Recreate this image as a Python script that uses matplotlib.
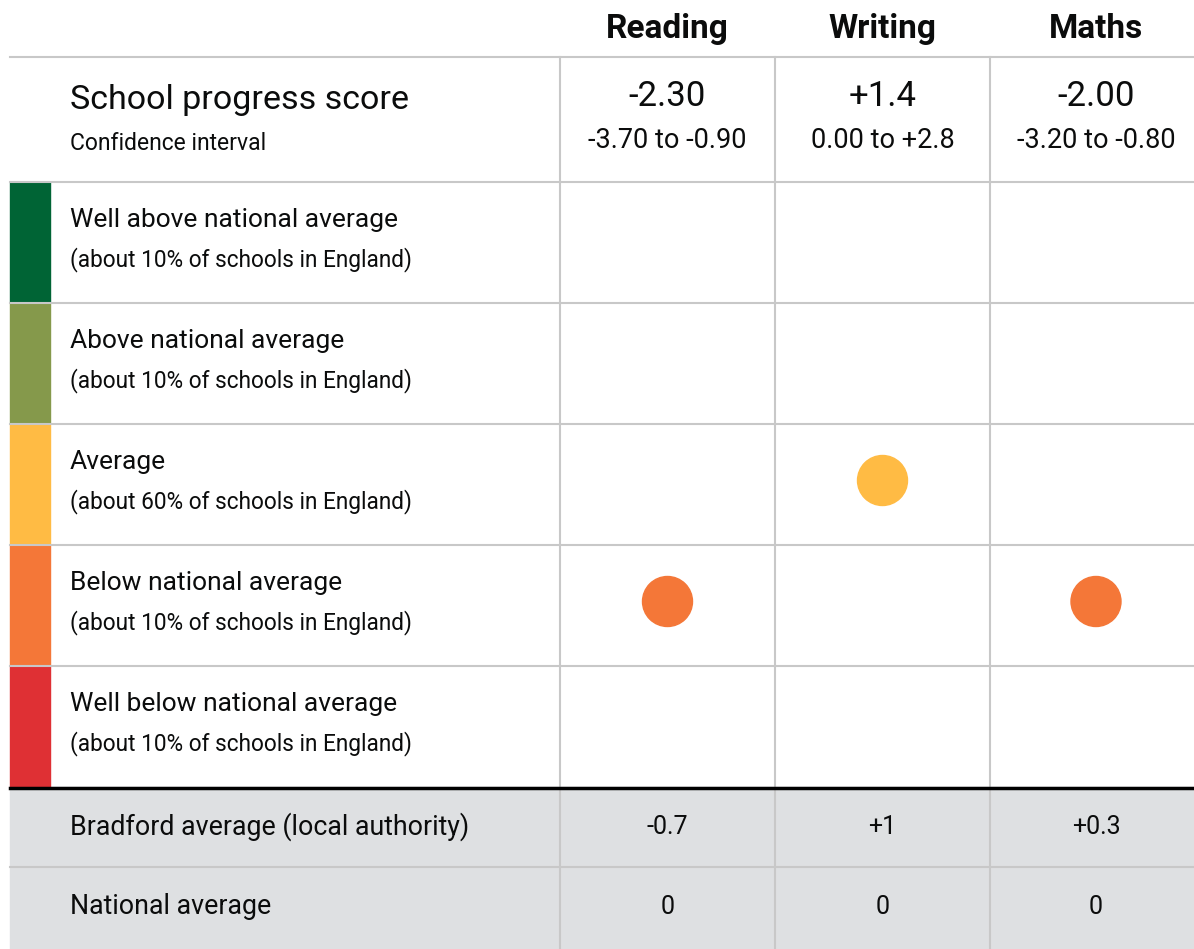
import matplotlib.pyplot as plt
from matplotlib.patches import Rectangle, Circle

plt.rcParams['font.family'] = ['Roboto', 'DejaVu Sans']

# data
subjects = ['Reading', 'Writing', 'Maths']
scores = ['-2.30', '+1.4', '-2.00']
conf_intervals = ['-3.70 to -0.90', '0.00 to +2.8', '-3.20 to -0.80']
bands = ['Well above national average', 'Above national average', 'Average',
         'Below national average', 'Well below national average']
band_notes = ['(about 10% of schools in England)', '(about 10% of schools in England)',
              '(about 60% of schools in England)', '(about 10% of schools in England)',
              '(about 10% of schools in England)']
band_colors = ['#006435', '#85994b', '#ffbb44', '#f47738', '#df3034']
subject_band = ['Below national average', 'Average', 'Below national average']
la_name = 'Bradford average (local authority)'
la_avg = ['-0.7', '+1', '+0.3']
national_avg = ['0', '0', '0']

# layout in pixels
W, H = 1194, 949
left = 10
col_edges = [560, 775, 990, 1202]
header_y = 57
head_h = 125
row_h = 121
foot_h = 80
grid = '#c8c8c8'
txt = '#0b0c0c'

fig = plt.figure(figsize=(W / 100, H / 100), dpi=100)
ax = fig.add_axes([0, 0, 1, 1])
ax.set_xlim(0, W)
ax.set_ylim(H, 0)
ax.axis('off')

col_centers = [(col_edges[i] + col_edges[i + 1]) / 2 for i in range(len(subjects))]
band_top = header_y + head_h
band_bottom = band_top + row_h * len(bands)

# grey footer background
ax.add_patch(Rectangle((left, band_bottom), W - left, H - band_bottom, color='#dee0e2', zorder=0))

# column headers
for x, s in zip(col_centers, subjects):
    ax.text(x, 29, s, ha='center', va='center', fontsize=24, fontweight='bold', color=txt)

# score row
ax.text(70, 100, 'School progress score', ha='left', va='center', fontsize=24.5, color=txt)
ax.text(70, 143, 'Confidence interval', ha='left', va='center', fontsize=16.5, color=txt)
for x, s, ci in zip(col_centers, scores, conf_intervals):
    ax.text(x, 96, s, ha='center', va='center', fontsize=25, color=txt)
    ax.text(x, 140, ci, ha='center', va='center', fontsize=19.5, color=txt)

# bands
for i, (b, note, c) in enumerate(zip(bands, band_notes, band_colors)):
    top = band_top + i * row_h
    ax.add_patch(Rectangle((left, top), 40, row_h, color=c, zorder=1))
    ax.text(70, top + 38, b, ha='left', va='center', fontsize=19, color=txt)
    ax.text(70, top + 78, note, ha='left', va='center', fontsize=16.3, color=txt)

# dots
for x, sb in zip(col_centers, subject_band):
    i = bands.index(sb)
    y = band_top + i * row_h + row_h / 2 - 4
    ax.add_patch(Circle((x, y), 25, color=band_colors[i], zorder=3))

# footer rows
foot_rows = [(la_name, la_avg), ('National average', national_avg)]
for k, (name, vals) in enumerate(foot_rows):
    yc = band_bottom + k * foot_h + foot_h / 2
    ax.text(70, yc, name, ha='left', va='center', fontsize=19.3, color=txt)
    for x, v in zip(col_centers, vals):
        ax.text(x, yc, v, ha='center', va='center', fontsize=18, color=txt)

# grid lines
ax.plot([left, W], [header_y, header_y], color=grid, lw=1.5, zorder=2)
for i in range(len(bands)):
    y = band_top + i * row_h
    ax.plot([left, W], [y, y], color=grid, lw=1.5, zorder=2)
ax.plot([left, W], [band_bottom + foot_h, band_bottom + foot_h], color=grid, lw=1.5, zorder=2)
for x in col_edges[:-1]:
    ax.plot([x, x], [header_y, H], color=grid, lw=1.5, zorder=2)
ax.plot([left, W], [band_bottom + 1, band_bottom + 1], color='black', lw=2.5, zorder=4)

fig.savefig('out.png', dpi=100)
